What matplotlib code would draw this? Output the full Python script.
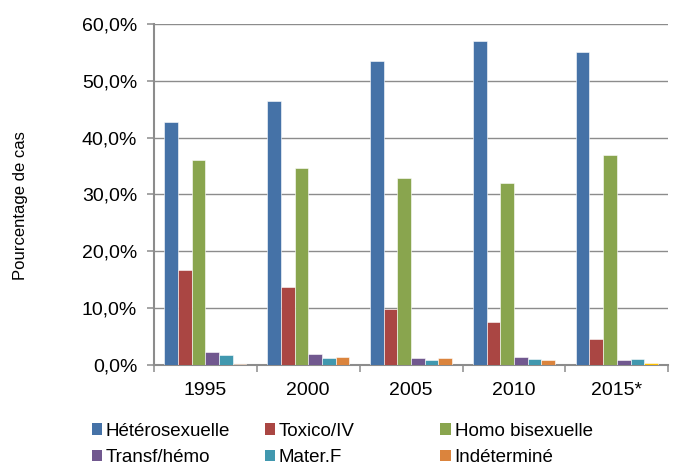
import numpy as np
import matplotlib
matplotlib.use("Agg")
import matplotlib.pyplot as plt
from matplotlib.patches import Patch

# ── Data (percent of cases) ───────────────────────────────────────────────────
years = ["1995", "2000", "2005", "2010", "2015*"]
series_names = ["Hétérosexuelle", "Toxico/IV", "Homo bisexuelle",
                "Transf/hémo", "Mater.F", "Indéterminé"]
hetero = [42.7, 46.5, 53.5, 56.9, 55.1]
toxico = [16.7, 13.8, 9.9, 7.5, 4.5]
homo   = [36.1, 34.7, 32.9, 32.1, 36.9]
transf = [2.3, 2.0, 1.3, 1.4, 0.9]
mater  = [1.7, 1.3, 0.8, 1.05, 1.1]
indet  = [0.2, 1.5, 1.2, 0.9, 0.4]

COLORS = ["#4572A7", "#AA4643", "#89A54E", "#71588F", "#4198AF", "#DB843D"]
GRID = "#8C8C8C"
FS = 14
plt.rcParams["font.family"] = ["Liberation Sans", "DejaVu Sans"]

fig = plt.figure(figsize=(6.84, 4.68), dpi=100)
ax = fig.add_axes([0.225, 0.22, 0.752, 0.729])

x = np.arange(len(years))
w = 0.133
data = [hetero, toxico, homo, transf, mater, indet]
for i, (vals, col) in enumerate(zip(data, COLORS)):
    bars = ax.bar(x + (i - 2.5) * w, vals, width=w, color=col,
                  edgecolor="white", linewidth=0.4, zorder=3)
    if i == 5:
        bars[-1].set_facecolor("#FFC000")

ax.set_xlim(-0.5, len(years) - 0.5)
ax.set_ylim(0, 60)
ax.set_yticks(np.arange(0, 61, 10))
ax.set_yticklabels([f"{v:.1f}%".replace(".", ",") for v in np.arange(0, 61, 10)],
                   fontsize=FS)
ax.set_xticks(x)
ax.set_xticklabels(years, fontsize=FS)
ax.set_xticks(np.arange(-0.5, len(years), 1), minor=True)
ax.tick_params(axis="x", which="major", length=0, pad=12)
ax.tick_params(axis="x", which="minor", length=5, color=GRID, width=1.1)
ax.tick_params(axis="y", length=5, color=GRID, width=1.1, pad=7)
ax.yaxis.grid(True, color=GRID, lw=1.0, zorder=0)
ax.set_axisbelow(True)
for s in ["top", "right"]:
    ax.spines[s].set_visible(False)
for s in ["left", "bottom"]:
    ax.spines[s].set_color(GRID)
    ax.spines[s].set_linewidth(1.5)

fig.text(0.03, 0.56, "Pourcentage de cas", rotation=90, fontsize=12,
         ha="center", va="center")

# legend: three columns placed like the original
col_x = [0.134, 0.387, 0.644]
for c in range(3):
    hs = [Patch(facecolor=COLORS[c + 3 * r], label=series_names[c + 3 * r])
          for r in range(2)]
    fig.legend(handles=hs, loc="upper left", bbox_to_anchor=(col_x[c], 0.097),
               frameon=False, fontsize=13.5, handlelength=0.55, handleheight=0.55,
               handletextpad=0.2, labelspacing=0.5, borderpad=0, borderaxespad=0)

fig.savefig("out.png", dpi=100)
